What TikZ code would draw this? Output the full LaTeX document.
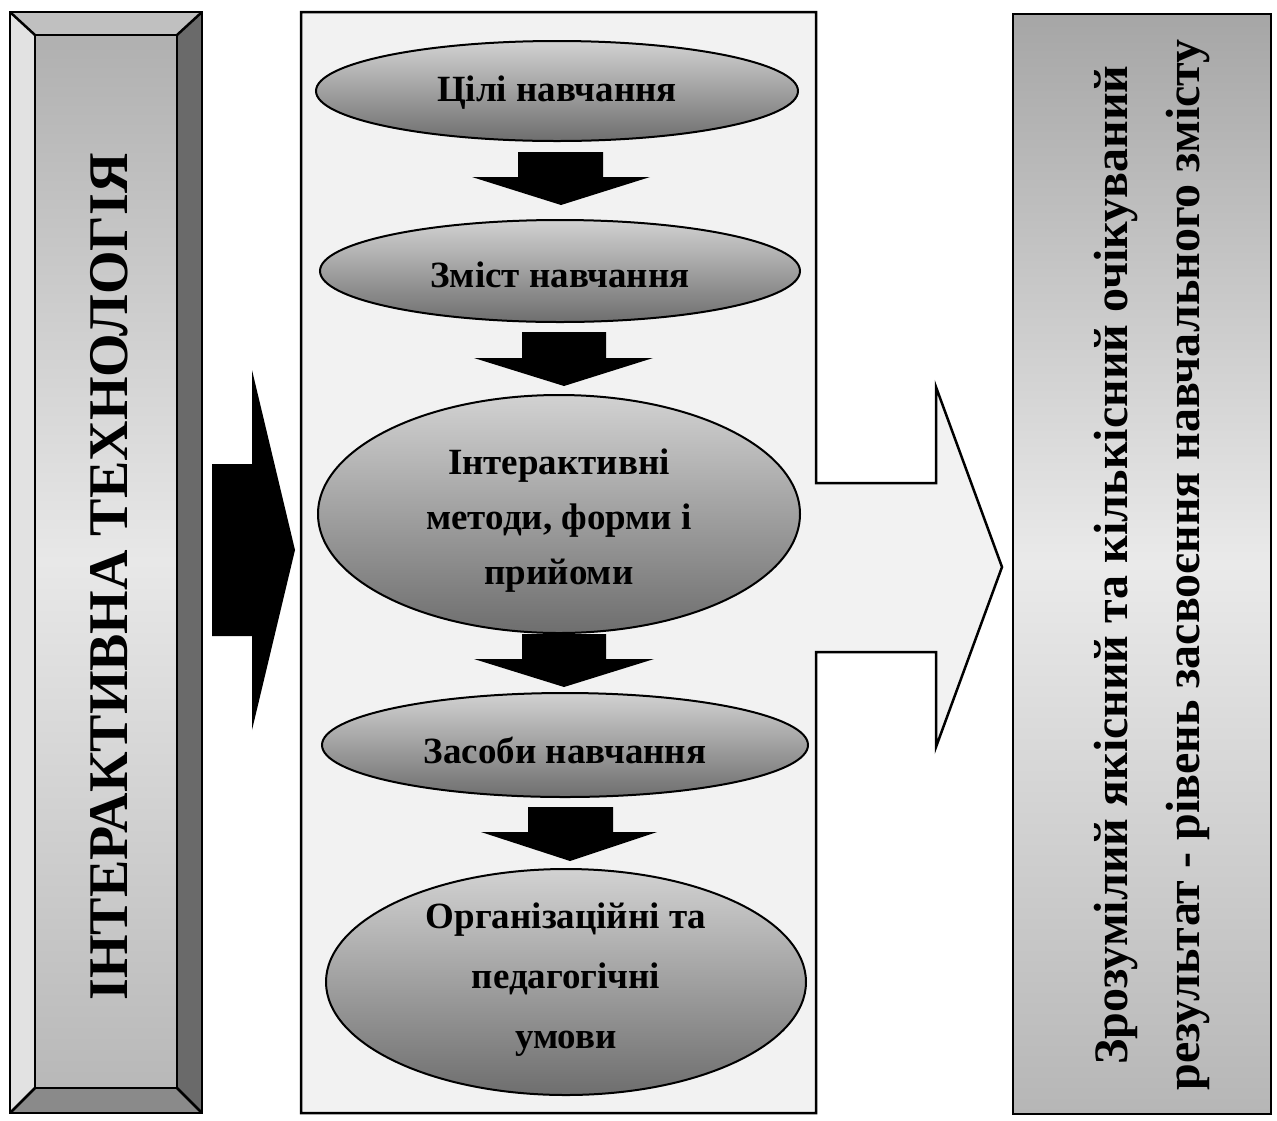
\documentclass[tikz,border=0pt]{standalone}
\usepackage{fontspec}
\setmainfont{Liberation Serif}[BoldFont={Liberation Serif Bold}]
\usetikzlibrary{shapes.geometric}
\definecolor{boxfill}{RGB}{242,242,242}
\definecolor{bevT}{RGB}{192,192,192}
\definecolor{bevL}{RGB}{226,226,226}
\definecolor{bevR}{RGB}{106,106,106}
\definecolor{bevB}{RGB}{138,138,138}
\definecolor{panT}{RGB}{176,176,176}
\definecolor{panM}{RGB}{232,232,232}
\definecolor{panB}{RGB}{184,184,184}
\definecolor{ellT}{RGB}{210,210,210}
\definecolor{ellB}{RGB}{110,110,110}
\definecolor{rT}{RGB}{166,166,166}
\definecolor{rM}{RGB}{234,234,234}
\definecolor{rB}{RGB}{182,182,182}
\tikzset{
  ell/.style={ellipse, draw=black, line width=2, top color=ellT, bottom color=ellB, inner sep=0pt},
  etext/.style={font=\fontsize{37}{55}\selectfont\bfseries, align=center, inner sep=0pt},
  blockarrow/.style={fill=black},
  outline/.style={draw=black, line width=2.5}
}
\begin{document}
\begin{tikzpicture}[x=1pt,y=-1pt]
\useasboundingbox (0,0) rectangle (1277,1120);
\fill[white] (0,0) rectangle (1277,1120);

% ---- left bevelled box ----
\fill[bevT] (10,12)--(202,12)--(177,35)--(35,35)--cycle;
\fill[bevL] (10,12)--(35,35)--(35,1088)--(10,1113)--cycle;
\fill[bevR] (202,12)--(202,1113)--(177,1088)--(177,35)--cycle;
\fill[bevB] (10,1113)--(202,1113)--(177,1088)--(35,1088)--cycle;
\shade[top color=panT, bottom color=panB, middle color=panM] (35,35) rectangle (177,1088);
\draw[outline] (10,12) rectangle (202,1113);
\draw[outline] (35,35) rectangle (177,1088);
\draw[outline] (10,12)--(35,35) (202,12)--(177,35) (10,1113)--(35,1088) (202,1113)--(177,1088);
\node[rotate=90, font=\fontsize{56}{60}\selectfont\bfseries, inner sep=0pt] (lt) at (109,577) {ІНТЕРАКТИВНА ТЕХНОЛОГІЯ};

% ---- left black arrow ----
\fill[blockarrow] (212,464)--(252,464)--(252,370)--(295,550)--(252,730)--(252,636)--(212,636)--cycle;

% ---- middle box with outgoing arrow ----
\filldraw[fill=boxfill, draw=black, line width=2.5]
  (301,12)--(816,12)--(816,483)--(936,483)--(936,387)--(1002,567)--(936,747)--(936,652)--(816,652)--(816,1113)--(301,1113)--cycle;

% ---- ellipses ----
\node[ell, minimum width=482, minimum height=100] (e1) at (557,91) {};
\node[ell, minimum width=480, minimum height=102] (e2) at (560,271) {};
\node[ell, minimum width=482, minimum height=238] (e3) at (559,514) {};
\node[ell, minimum width=486, minimum height=104] (e4) at (565,745) {};
\node[ell, minimum width=480, minimum height=226] (e5) at (566,982) {};

\node[etext] (t1) at ([yshift=-2pt]e1.center) {Цілі навчання};
\node[etext] (t2) at ([yshift=-4pt]e2.center) {Зміст навчання};
\node[etext] (t3) at ([yshift=-7pt]e3.center) {Інтерактивні\\методи, форми і\\прийоми};
\node[etext] (t4) at ([yshift=-5pt]e4.center) {Засоби навчання};
\node[etext, font=\fontsize{37}{60}\selectfont\bfseries] (t5) at ([yshift=2pt]e5.center) {Організаційні та\\педагогічні\\умови};

% ---- down block arrows ----
\fill[blockarrow] (518,152)--(603,152)--(603,177)--(650,177)--(561,205)--(472,177)--(518,177)--cycle;
\fill[blockarrow] (522,332)--(606,332)--(606,358)--(653,358)--(564,386)--(474,358)--(522,358)--cycle;
\fill[blockarrow] (522,634)--(606,634)--(606,659)--(654,659)--(564,687)--(474,659)--(522,659)--cycle;
\fill[blockarrow] (528,807)--(613,807)--(613,832)--(657,832)--(570,861)--(481,832)--(528,832)--cycle;

% ---- right box ----
\shade[top color=rT, bottom color=rB, middle color=rM] (1013,14) rectangle (1271,1114);
\draw[outline] (1013,14) rectangle (1271,1114);
\node[rotate=90, font=\fontsize{48}{72}\selectfont\bfseries, align=center, inner sep=0pt] (rt) at (1152,565)
  {Зрозумілий якісний та кількісний очікуваний\\результат - рівень засвоєння навчального змісту};
\end{tikzpicture}
\end{document}
